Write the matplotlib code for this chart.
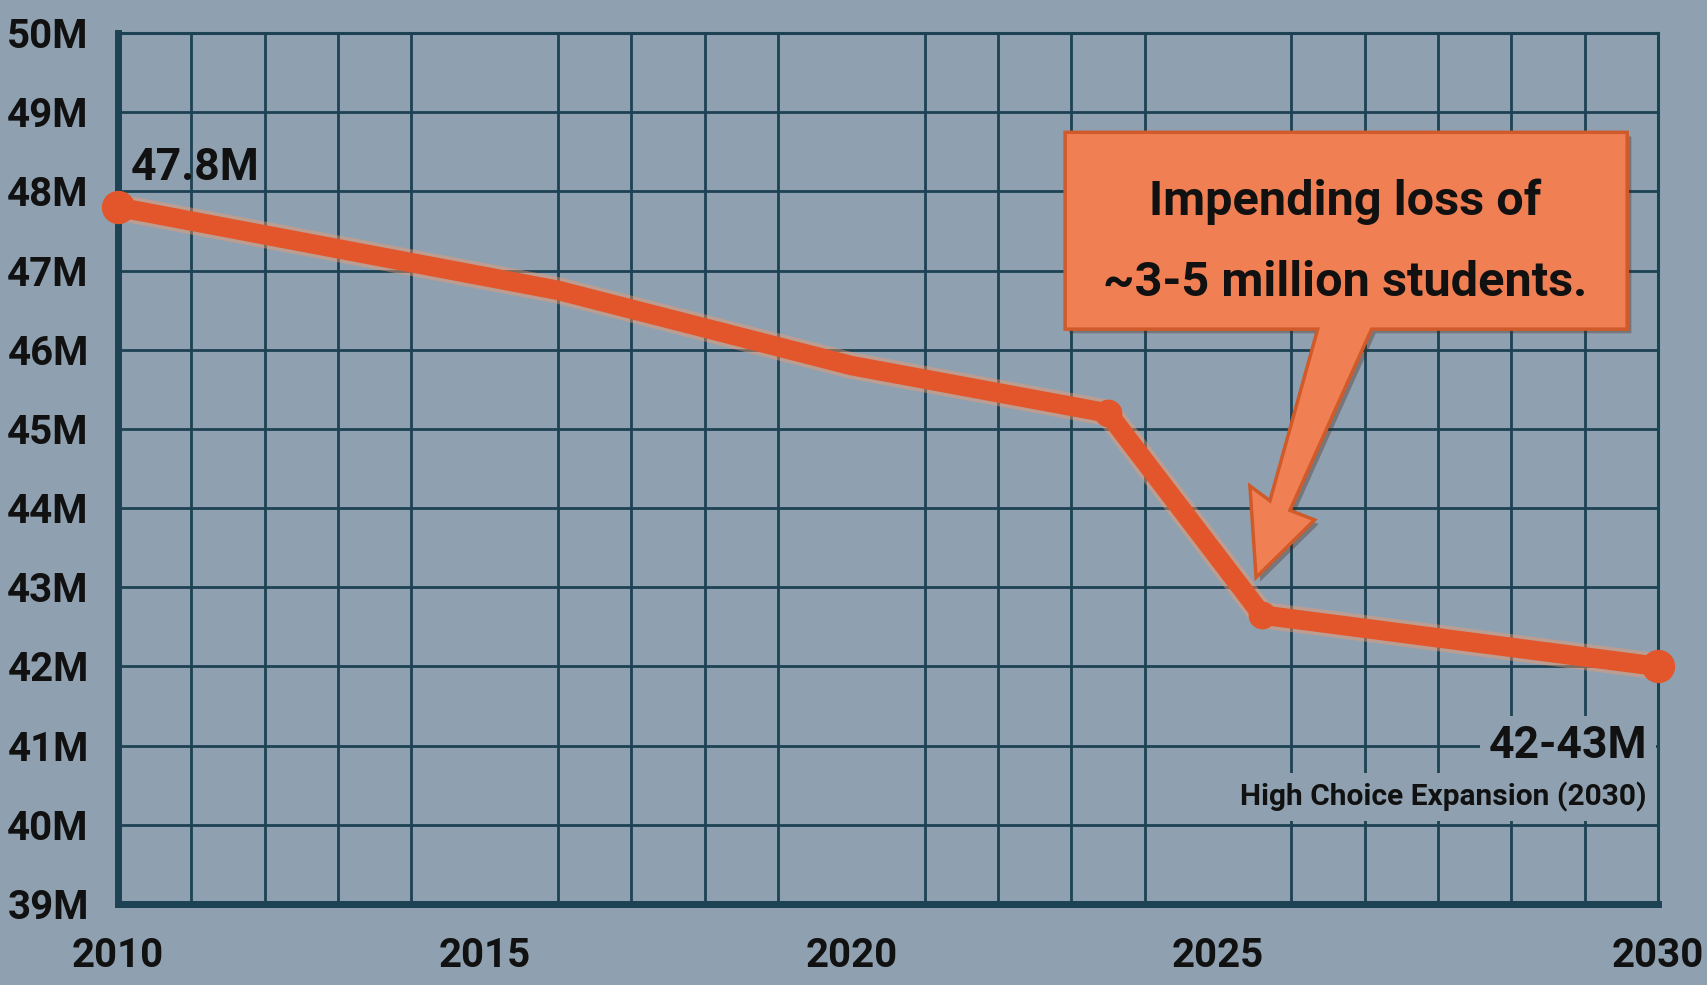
import numpy as np
import matplotlib.pyplot as plt
import matplotlib.patheffects as pe
from matplotlib import font_manager
from matplotlib.patches import Polygon

# enrolment line, values in millions
years = [2010, 2016, 2020, 2023.5, 2025.5, 2030]
students = [47.8, 46.75, 45.8, 45.2, 42.65, 42.0]

y_ticks = list(range(39, 51))
y_labels = ["{}M".format(v) for v in y_ticks]
x_ticks = [2010, 2015, 2020, 2025, 2030]
x_labels = [str(v) for v in x_ticks]

start_label = "47.8M"
end_label = "42-43M"
end_note = "High Choice Expansion (2030)"
callout_lines = ["Impending loss of", "~3-5 million students."]

# condensed bold font if we have one
installed = {f.name for f in font_manager.fontManager.ttflist}
font = "Liberation Sans Narrow" if "Liberation Sans Narrow" in installed else "Roboto"
plt.rcParams['font.family'] = [font, 'DejaVu Sans']
plt.rcParams['font.weight'] = 'bold'

bg = '#8fa1b0'
grid_col = '#1c4253'
line_col = '#e3562b'
box_col = '#f07f53'
box_edge = '#d05a2a'


# the last 5 years get 6 grid cells in the original picture
def fwd(x):
    x = np.asarray(x, dtype=float)
    return np.where(x <= 2025, x, 2025 + (x - 2025) * 1.2)


def inv(x):
    x = np.asarray(x, dtype=float)
    return np.where(x <= 2025, x, 2025 + (x - 2025) / 1.2)


fig = plt.figure(figsize=(17.07, 9.85), dpi=100)
fig.patch.set_facecolor(bg)
ax = fig.add_axes([0.06913, 0.08223, 0.90217, 0.88426])
ax.set_facecolor(bg)

ax.set_xscale('function', functions=(fwd, inv))
ax.set_xlim(2010, 2030)
ax.set_ylim(39, 50)

ax.set_yticks(y_ticks)
ax.set_yticklabels(y_labels)
ax.set_xticks(x_ticks)
ax.set_xticklabels(x_labels)
ax.set_xticks(inv(np.arange(2010, 2032)), minor=True)
ax.tick_params(axis='both', which='both', length=0, colors='#111111')
ax.tick_params(axis='y', pad=21, labelsize=29)
ax.tick_params(axis='x', pad=24, labelsize=29)

ax.grid(which='minor', axis='x', color=grid_col, lw=2)
ax.grid(which='major', axis='y', color=grid_col, lw=2)
ax.grid(which='major', axis='x', visible=False)
ax.set_axisbelow(True)

for side in ['left', 'bottom']:
    ax.spines[side].set_linewidth(5)
    ax.spines[side].set_color(grid_col)
for side in ['top', 'right']:
    ax.spines[side].set_linewidth(2.2)
    ax.spines[side].set_color(grid_col)

# the line with a soft glow
glow = [pe.Stroke(linewidth=19, foreground='#f29a6e', alpha=0.45), pe.Normal()]
ax.plot(years, students, color=line_col, lw=14, solid_capstyle='round',
        solid_joinstyle='round', path_effects=glow, zorder=5, clip_on=False)
ax.plot([years[0], years[-1]], [students[0], students[-1]], 'o', color=line_col,
        ms=23, zorder=6, clip_on=False)
ax.plot(years[3:5], students[3:5], 'o', color=line_col, ms=19, zorder=6)

# labels at both ends
ax.annotate(start_label, (years[0], students[0]), xytext=(9.4, 19.4),
            textcoords='offset points', ha='left', va='baseline',
            fontsize=32, color='#111111', zorder=7)
ax.annotate(end_label, (years[-1], students[-1]), xytext=(-8, -66),
            textcoords='offset points', ha='right', va='baseline',
            fontsize=32, color='#111111', zorder=7,
            bbox=dict(boxstyle='square,pad=0.2', fc=bg, ec=bg, lw=0))
ax.annotate(end_note, (years[-1], students[-1]), xytext=(-8, -100),
            textcoords='offset points', ha='right', va='baseline',
            fontsize=21.5, color='#111111', zorder=7,
            bbox=dict(boxstyle='square,pad=0.3', fc=bg, ec=bg, lw=0))

# speech box with arrow tail, in axes fraction
callout = [
    (0.615, 0.886), (0.980, 0.886), (0.980, 0.660),
    (0.814, 0.660), (0.761, 0.452), (0.777, 0.441),
    (0.739, 0.375), (0.735, 0.480), (0.748, 0.463),
    (0.779, 0.660), (0.615, 0.660),
]
box = Polygon(callout, closed=True, transform=ax.transAxes, fc=box_col,
              ec=box_edge, lw=2.5, zorder=8, clip_on=False,
              path_effects=[pe.SimplePatchShadow(offset=(3, -3), alpha=0.35),
                            pe.Normal()])
ax.add_patch(box)
ax.text(0.797, 0.791, callout_lines[0], transform=ax.transAxes, ha='center',
        va='baseline', fontsize=35, color='#111111', zorder=9)
ax.text(0.797, 0.698, callout_lines[1], transform=ax.transAxes, ha='center',
        va='baseline', fontsize=35, color='#111111', zorder=9)

fig.savefig('out.png', dpi=100, facecolor=bg)
